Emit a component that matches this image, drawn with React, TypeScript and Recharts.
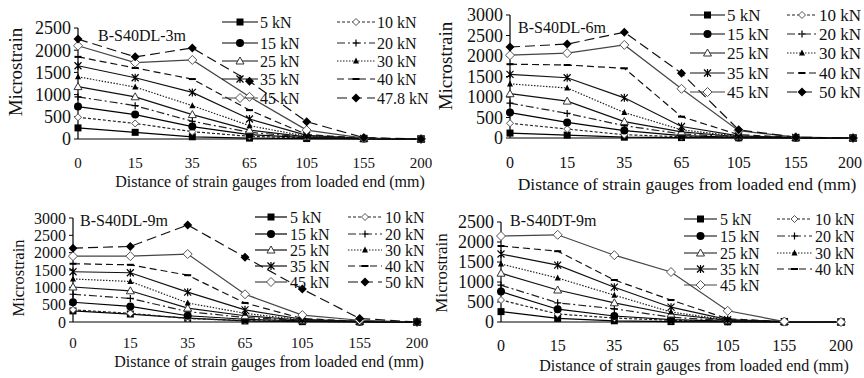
import React from 'react';
import { LineChart, Line, XAxis, YAxis } from 'recharts';

const FONT = 'Liberation Serif, Tinos, Times New Roman, DejaVu Serif, serif';

// strain gauge positions (mm from loaded end)
const gauges = ['0', '15', '35', '65', '105', '155', '200'];

const loads3m = ['5 kN', '10 kN', '15 kN', '20 kN', '25 kN', '30 kN', '35 kN', '40 kN', '45 kN', '47.8 kN'];
const loads50 = ['5 kN', '10 kN', '15 kN', '20 kN', '25 kN', '30 kN', '35 kN', '40 kN', '45 kN', '50 kN'];
const loadsDT = ['5 kN', '10 kN', '15 kN', '20 kN', '25 kN', '30 kN', '35 kN', '40 kN', '45 kN'];

// microstrain, one row per load step
const strainDL3 = [
  [250, 150, 50, 20, 10, 5, 0],
  [490, 350, 165, 60, 20, 5, 0],
  [730, 550, 280, 100, 30, 10, 0],
  [950, 750, 400, 150, 40, 10, 0],
  [1180, 950, 550, 200, 50, 10, 0],
  [1400, 1170, 750, 300, 60, 15, 0],
  [1650, 1380, 1050, 450, 80, 15, 0],
  [1850, 1600, 1350, 650, 100, 20, 0],
  [2100, 1720, 1780, 950, 200, 20, 0],
  [2250, 1850, 2050, 1300, 390, 30, 0],
];

const strainDL6 = [
  [120, 70, 20, 10, 5, 0, 0],
  [360, 220, 80, 30, 10, 5, 0],
  [620, 380, 180, 60, 15, 5, 0],
  [850, 600, 300, 100, 20, 10, 0],
  [1080, 900, 400, 150, 30, 10, 0],
  [1320, 1220, 620, 200, 40, 10, 0],
  [1550, 1470, 980, 280, 50, 15, 0],
  [1800, 1780, 1700, 520, 80, 15, 0],
  [2020, 2070, 2270, 1200, 180, 20, 0],
  [2220, 2290, 2580, 1580, 200, 20, 0],
];

const strainDL9 = [
  [320, 230, 110, 30, 10, 5, 0],
  [350, 250, 100, 40, 20, 5, 0],
  [570, 450, 180, 80, 30, 10, 0],
  [800, 680, 300, 130, 40, 10, 0],
  [1010, 900, 400, 180, 50, 15, 0],
  [1240, 1170, 550, 250, 60, 15, 0],
  [1450, 1420, 860, 350, 80, 20, 0],
  [1680, 1650, 1350, 550, 100, 20, 0],
  [1900, 1900, 1960, 800, 200, 50, 0],
  [2130, 2180, 2800, 1870, 950, 100, 0],
];

const strainDT9 = [
  [260, 90, 30, 10, 5, 0, 0],
  [550, 200, 100, 40, 10, 5, 0],
  [760, 320, 150, 60, 20, 5, 0],
  [920, 480, 330, 120, 30, 10, 0],
  [1220, 800, 480, 200, 40, 10, 0],
  [1450, 1100, 670, 250, 50, 10, 0],
  [1700, 1420, 870, 370, 60, 10, 0],
  [1900, 1770, 1050, 550, 80, 10, 0],
  [2150, 2180, 1670, 1250, 280, 10, 0],
];

const ticks2500 = [0, 500, 1000, 1500, 2000, 2500];
const ticks3000 = [0, 500, 1000, 1500, 2000, 2500, 3000];

type Kind = 'square' | 'diamondSm' | 'circle' | 'plus' | 'triOpen' | 'tri' | 'star' | 'bar' | 'diamondOpen' | 'diamond';

const series: { kind: Kind; dash?: string; color: string }[] = [
  { kind: 'square', color: '#000' },
  { kind: 'diamondSm', dash: '3 2', color: '#222' },
  { kind: 'circle', color: '#000' },
  { kind: 'plus', dash: '8 3 2 3', color: '#222' },
  { kind: 'triOpen', color: '#111' },
  { kind: 'tri', dash: '1.5 1.5', color: '#222' },
  { kind: 'star', color: '#111' },
  { kind: 'bar', dash: '7 4', color: '#111' },
  { kind: 'diamondOpen', color: '#444' },
  { kind: 'diamond', dash: '10 5', color: '#111' },
];

function Mark({ kind, x, y }: { kind: Kind; x: number; y: number }) {
  switch (kind) {
    case 'square':
      return <rect x={x - 3.5} y={y - 3.5} width={7} height={7} fill="#000" />;
    case 'diamondSm':
      return <path d={`M${x},${y - 3.5}L${x + 3.5},${y}L${x},${y + 3.5}L${x - 3.5},${y}Z`} fill="#fff" stroke="#555" />;
    case 'circle':
      return <circle cx={x} cy={y} r={4} fill="#000" />;
    case 'plus':
      return <path d={`M${x - 3.5},${y}H${x + 3.5}M${x},${y - 3.5}V${y + 3.5}`} stroke="#000" strokeWidth={1.2} />;
    case 'triOpen':
      return <path d={`M${x},${y - 4}L${x + 4},${y + 3}L${x - 4},${y + 3}Z`} fill="#fff" stroke="#333" />;
    case 'tri':
      return <path d={`M${x},${y - 3.5}L${x + 3},${y + 2.5}L${x - 3},${y + 2.5}Z`} fill="#000" />;
    case 'star':
      return (
        <path
          d={`M${x - 3.5},${y - 3.5}L${x + 3.5},${y + 3.5}M${x + 3.5},${y - 3.5}L${x - 3.5},${y + 3.5}M${x},${y - 4}V${y + 4}`}
          stroke="#000"
          strokeWidth={1.2}
        />
      );
    case 'bar':
      return <rect x={x - 3.5} y={y - 1} width={7} height={2} fill="#000" />;
    case 'diamondOpen':
      return <path d={`M${x},${y - 4.5}L${x + 4.5},${y}L${x},${y + 4.5}L${x - 4.5},${y}Z`} fill="#fff" stroke="#555" />;
    default:
      return <path d={`M${x},${y - 4.5}L${x + 4.5},${y}L${x},${y + 4.5}L${x - 4.5},${y}Z`} fill="#000" />;
  }
}

interface PanelProps {
  left: number;
  top: number;
  width: number;
  height: number;
  strain: number[][];
  loads: string[];
  yTicks: number[];
  plot: [number, number, number, number]; // left, right, top, bottom in page px
  yTickFont: number;
  xTickFont: number;
  xTickGap: number;
  clampTicks?: boolean;
  title: string;
  titlePos: [number, number];
  yLabel: [number, number, number];
  xLabel: [number, number, number];
  legendCols: [number, number, number][];
  legendRows: number[];
  legendFont: number;
}

function Panel(p: PanelProps) {
  const [pl, pr, pt, pb] = p.plot;
  const rows = gauges.map((g, i) => {
    const r: Record<string, number | string> = { gauge: g };
    p.strain.forEach((s, j) => (r['s' + j] = s[i]));
    return r;
  });
  const ox = p.left;
  const oy = p.top;

  // keep the last tick label inside the panel where the figure shows it whole
  const xTick = (t: any) => {
    const half = String(t.payload.value).length * p.xTickFont * 0.25;
    const x = p.clampTicks ? Math.min(t.x, p.width - 2 - half) : t.x;
    return (
      <text x={x} y={t.y} dy="0.71em" textAnchor="middle" fontSize={p.xTickFont} fill="#111" fontFamily={FONT}>
        {t.payload.value}
      </text>
    );
  };

  return (
    <div style={{ position: 'absolute', left: p.left, top: p.top, width: p.width, height: p.height }}>
      <LineChart
        width={p.width}
        height={p.height}
        data={rows}
        margin={{ top: pt - oy, right: ox + p.width - pr, bottom: 0, left: 0 }}
      >
        <XAxis
          dataKey="gauge"
          interval={0}
          height={oy + p.height - pb}
          tickSize={0}
          tickMargin={p.xTickGap}
          axisLine={{ stroke: '#000', strokeWidth: 1.2 }}
          tick={xTick}
        />
        <YAxis
          width={pl - ox}
          domain={[0, p.yTicks[p.yTicks.length - 1]]}
          ticks={p.yTicks}
          interval={0}
          tickSize={4}
          tickMargin={3}
          axisLine={{ stroke: '#000', strokeWidth: 1.2 }}
          tickLine={{ stroke: '#000' }}
          tick={{ fontSize: p.yTickFont, fill: '#111', fontFamily: FONT }}
        />
        {p.strain.map((_, j) => {
          const st = series[j];
          return (
            <Line
              key={p.loads[j]}
              dataKey={'s' + j}
              name={p.loads[j]}
              type="linear"
              stroke={st.color}
              strokeWidth={1.2}
              strokeDasharray={st.dash}
              dot={(d: any) => <Mark key={'m' + j + '-' + d.index} kind={st.kind} x={d.cx} y={d.cy} />}
              activeDot={false}
              isAnimationActive={false}
            />
          );
        })}
      </LineChart>
      <svg
        width={p.width}
        height={p.height + 10}
        fontFamily={FONT}
        style={{ position: 'absolute', left: 0, top: 0, pointerEvents: 'none' }}
      >
        <text x={p.titlePos[0] - ox} y={p.titlePos[1] - oy} dy="0.35em" fontSize={16} fill="#111">
          {p.title}
        </text>
        <text
          transform={`translate(${p.yLabel[0] - ox},${p.yLabel[1] - oy}) rotate(-90)`}
          textAnchor="middle"
          dy="0.35em"
          fontSize={p.yLabel[2]}
          fill="#111"
        >
          Microstrain
        </text>
        <text x={p.xLabel[0] - ox} y={p.xLabel[1] - oy} textAnchor="middle" fontSize={p.xLabel[2]} fill="#111">
          Distance of strain gauges from loaded end (mm)
        </text>
        {p.loads.map((name, j) => {
          const col = p.legendCols[j % 2];
          const y = p.legendRows[Math.floor(j / 2)] - oy;
          const st = series[j];
          const x1 = col[0] - ox;
          const x2 = col[1] - ox;
          return (
            <g key={name}>
              <line x1={x1} x2={x2} y1={y} y2={y} stroke={st.color} strokeWidth={1.2} strokeDasharray={st.dash} />
              <Mark kind={st.kind} x={(x1 + x2) / 2} y={y} />
              <text x={col[2] - ox} y={y} dy="0.35em" fontSize={p.legendFont} fill="#111">
                {name}
              </text>
            </g>
          );
        })}
      </svg>
    </div>
  );
}

export default function App() {
  return (
    <div
      style={{
        position: 'absolute',
        left: 0,
        top: 0,
        width: 864,
        height: 378,
        background: '#fff',
        overflow: 'hidden',
        fontFamily: FONT,
      }}
    >
      <Panel
        left={0}
        top={0}
        width={432}
        height={190}
        strain={strainDL3}
        loads={loads3m}
        yTicks={ticks2500}
        plot={[78, 421, 28, 139]}
        yTickFont={18}
        xTickFont={15}
        xTickGap={18}
        title="B-S40DL-3m"
        titlePos={[98, 35]}
        yLabel={[15, 72, 19]}
        xLabel={[270, 187, 16]}
        legendCols={[[222, 258, 260], [337, 375, 377]]}
        legendRows={[22, 43, 61, 79, 98]}
        legendFont={16}
      />
      <Panel
        left={432}
        top={0}
        width={432}
        height={190}
        strain={strainDL6}
        loads={loads50}
        yTicks={ticks3000}
        plot={[510, 853, 15, 138]}
        yTickFont={18}
        xTickFont={16}
        xTickGap={19}
        clampTicks
        title="B-S40DL-6m"
        titlePos={[518, 27]}
        yLabel={[445, 66, 19]}
        xLabel={[687, 190, 17.5]}
        legendCols={[[690, 725, 727], [787, 817, 819]]}
        legendRows={[15, 34, 53, 73, 92]}
        legendFont={17}
      />
      <Panel
        left={0}
        top={185}
        width={432}
        height={193}
        strain={strainDL9}
        loads={loads50}
        yTicks={ticks3000}
        plot={[73, 417, 218, 322]}
        yTickFont={16}
        xTickFont={15}
        xTickGap={15}
        title="B-S40DL-9m"
        titlePos={[80, 220]}
        yLabel={[18, 278, 16.5]}
        xLabel={[269, 367, 16]}
        legendCols={[[255, 287, 290], [348, 382, 385]]}
        legendRows={[217, 234, 250, 266, 282]}
        legendFont={16}
      />
      <Panel
        left={432}
        top={185}
        width={432}
        height={193}
        strain={strainDT9}
        loads={loadsDT}
        yTicks={ticks2500}
        plot={[501, 841, 222, 322]}
        yTickFont={18}
        xTickFont={16}
        xTickGap={18}
        clampTicks
        title="B-S40DT-9m"
        titlePos={[510, 220]}
        yLabel={[441, 273, 17]}
        xLabel={[694, 371, 16]}
        legendCols={[[684, 717, 720], [777, 812, 815]]}
        legendRows={[219, 236, 253, 269, 285]}
        legendFont={16}
      />
    </div>
  );
}
